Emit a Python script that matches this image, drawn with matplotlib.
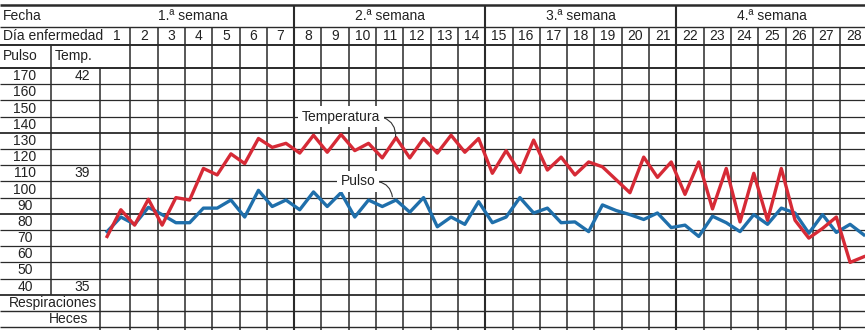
import matplotlib
matplotlib.use("Agg")
import matplotlib.pyplot as plt
import numpy as np

# two readings a day (morning / evening), 28 days
temperatura = [71, 87.5, 78, 94, 78, 95, 93.5, 113, 109, 122, 116, 131.5, 126, 128.5,
               122.5, 133.5, 123, 134, 124, 128.5, 119.5, 132, 119.5, 131.5, 122.5, 133.5,
               123, 131.5, 110, 124, 110.5, 130.5, 112, 120, 109, 117, 114, 106,
               98, 120, 107.5, 117, 97, 117, 88, 113, 80, 110, 81, 113,
               81, 70, 76, 83, 55, 58.5]
pulso = [74, 83, 78.5, 89, 84.5, 79.5, 79.5, 88.5, 88.5, 93.5, 83, 99.5, 89.5, 93.5,
         87.5, 98.5, 89.5, 98, 83, 93.5, 89.5, 93.5, 86, 95, 77, 83,
         78.5, 92.5, 79.5, 83, 95, 85.5, 88.5, 79.5, 80, 74, 90.5, 87,
         84.5, 81.5, 85.5, 76.5, 78, 71, 83.5, 79.5, 74, 84.5, 78.5, 88.5,
         85.5, 73, 84.5, 73.5, 78.5, 72]
lectura = np.arange(len(pulso))
t = 0.15 + lectura * 0.504   # position in day columns

dias = [str(d) for d in range(1, 29)]
semanas = ['1.ª semana', '2.ª semana', '3.ª semana', '4.ª semana']
pulso_ticks = [170, 160, 150, 140, 130, 120, 110, 100, 90, 80, 70, 60, 50, 40]
temp_ticks = {170: '42', 110: '39', 40: '35'}

plt.rcParams['font.family'] = ['Liberation Sans', 'DejaVu Sans']
txt = '#222222'
lc = '#2a2a2a'

fig = plt.figure(figsize=(8.65, 3.3), dpi=100)
ax = fig.add_axes([0, 0, 1, 1])
x0, x1 = -3.773, 27.912
ax.set_xlim(x0, x1)
ax.set_ylim(13.27, 216.98)
ax.axis('off')

# horizontal rules
y_top, y_fecha, y_dia, y_head = 213.9, 200.3, 189.2, 175
ax.hlines(y_top, x0, x1, color=lc, lw=1.8)
ax.hlines(y_fecha, x0, x1, color=lc, lw=1.0)
ax.hlines([y_dia, y_head], x0, x1, color=lc, lw=1.4)
for v in np.arange(165, 34, -10):
    ax.hlines(v, x0, x1, color=lc, lw=1.3 if v in (135, 85, 35) else 0.9)
ax.hlines([25, 15], x0, x1, color=lc, lw=1.0)

# vertical rules
ax.vlines(-1.9, 35, y_dia, color=lc, lw=1.1)
ax.vlines(-0.11, 13.27, y_head, color=lc, lw=1.1)
for k in range(1, 28):
    if k % 7 == 0:
        ax.vlines(k, 13.27, y_top, color=lc, lw=1.5)
    else:
        ax.vlines(k, 13.27, y_fecha, color=lc, lw=1.1)

# header texts
fs = 10
ax.text(-3.66, 206.8, 'Fecha', ha='left', va='center', fontsize=fs, color=txt)
ax.text(-3.66, 194.8, 'Día enfermedad', ha='left', va='center', fontsize=fs, color=txt)
for i, s in enumerate(semanas):
    xc = 3.3 if i == 0 else 7 * i + 3.5
    ax.text(xc, 206.8, s, ha='center', va='center', fontsize=fs, color=txt)
for i, d in enumerate(dias):
    ax.text(i + 0.5, 194.8, d, ha='center', va='center', fontsize=fs, color=txt)
ax.text(-3.66, 182.2, 'Pulso', ha='left', va='center', fontsize=fs, color=txt)
ax.text(-1.77, 182.2, 'Temp.', ha='left', va='center', fontsize=fs, color=txt)
for p in pulso_ticks:
    ax.text(-2.86, p, str(p), ha='center', va='center', fontsize=fs, color=txt)
    if p in temp_ticks:
        ax.text(-0.77, p, temp_ticks[p], ha='center', va='center', fontsize=fs, color=txt)
ax.text(-1.85, 30, 'Respiraciones', ha='center', va='center', fontsize=fs, color=txt)
ax.text(-1.25, 20, 'Heces', ha='center', va='center', fontsize=fs, color=txt)

# curves
ax.plot(t, pulso, color='#1f6fab', lw=2.4, zorder=3, solid_joinstyle='round')
ax.plot(t, temperatura, color='#d62a36', lw=2.4, zorder=3, solid_joinstyle='round')

ax.annotate('Temperatura', xy=(10.72, 132.4), xytext=(8.72, 145), ha='center', va='center',
            fontsize=fs, color=txt, zorder=5,
            bbox=dict(fc='white', ec='none', pad=2.5),
            arrowprops=dict(arrowstyle='-', color='#333333', lw=0.8, relpos=(1, 0.5),
                            connectionstyle='arc3,rad=-0.4', shrinkA=0, shrinkB=0))
ax.annotate('Pulso', xy=(10.6, 95.5), xytext=(9.34, 105), ha='center', va='center',
            fontsize=fs, color=txt, zorder=5,
            bbox=dict(fc='white', ec='none', pad=2.5),
            arrowprops=dict(arrowstyle='-', color='#333333', lw=0.8, relpos=(1, 0.5),
                            connectionstyle='arc3,rad=-0.4', shrinkA=0, shrinkB=0))

fig.savefig('out.png', dpi=100, facecolor='white')
